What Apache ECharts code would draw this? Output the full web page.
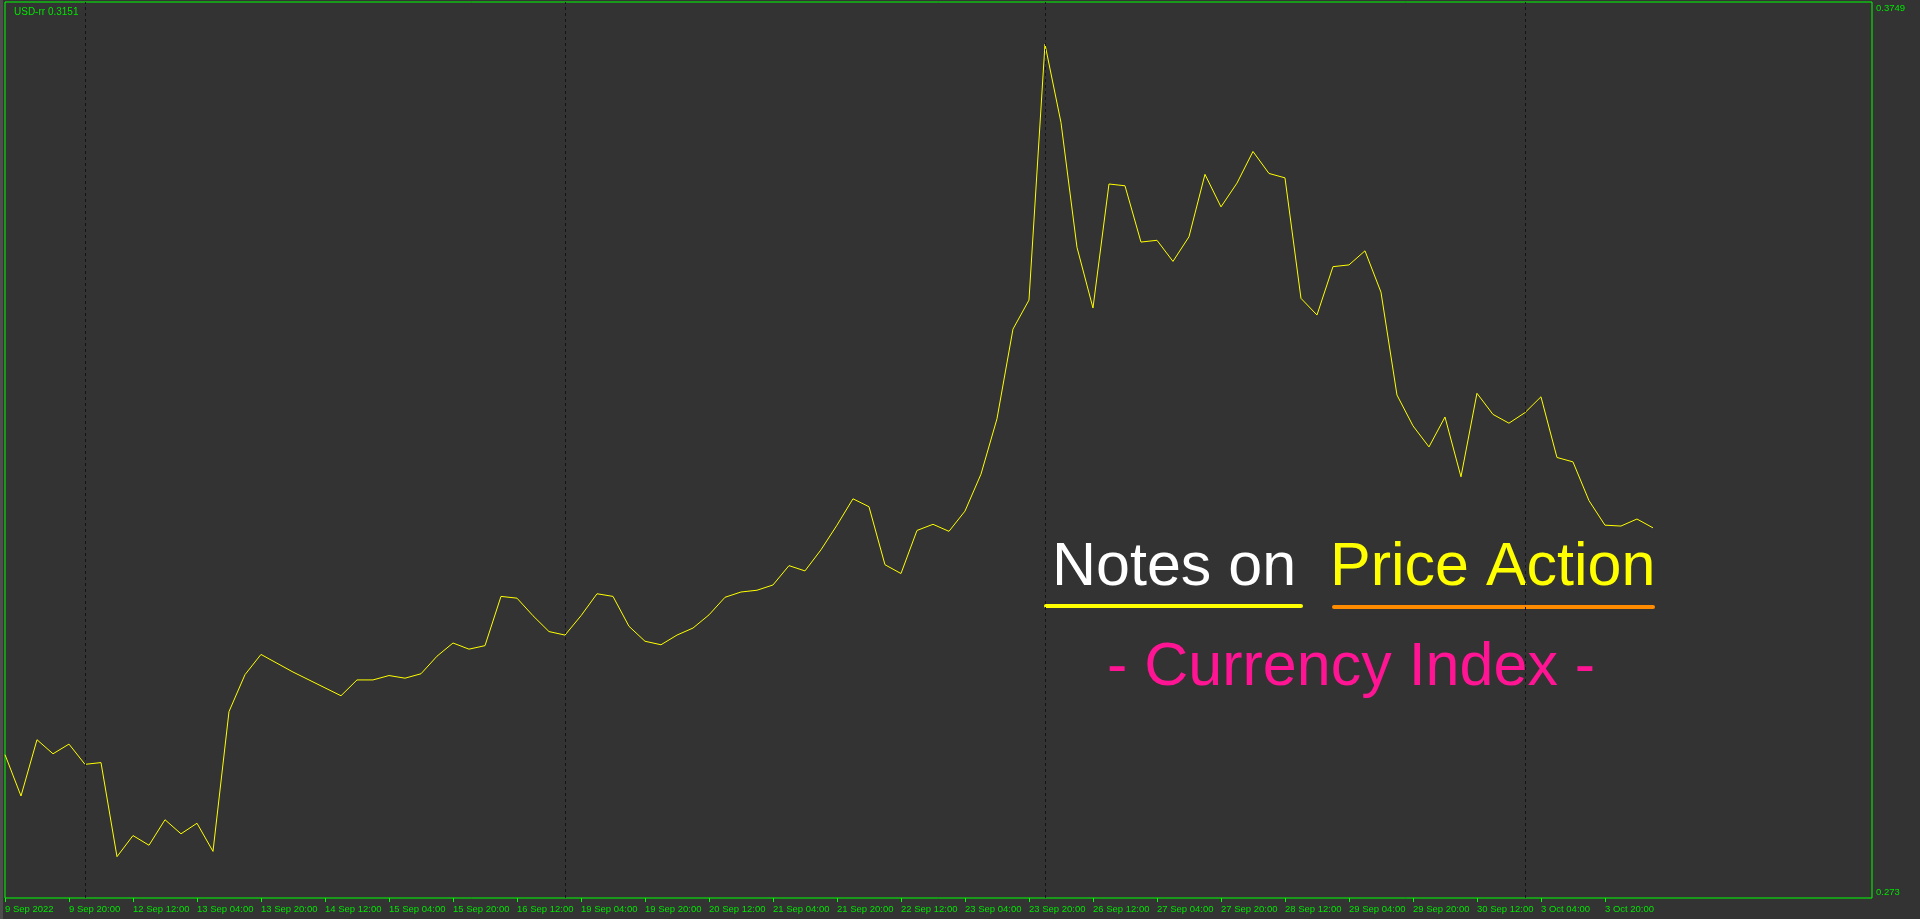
<!DOCTYPE html>
<html>
<head>
<meta charset="utf-8">
<title>USD-rr</title>
<script src="https://cdn.jsdelivr.net/npm/echarts@6/dist/echarts.min.js"></script>
<style>
	html, body {
		margin: 0;
		padding: 0;
		background: #333333;
	}
	#chart {
		width: 1920px;
		height: 919px;
	}
</style>
</head>
<body>
<div id="chart"></div>
<script>
	// H4 bars, one value per bar (bar 0 = 9 Sep 2022)
	const usdValues = [
		0.2893, 0.2846, 0.2910, 0.2894, 0.2905, 0.2882, 0.2884, 0.2777, 0.2801, 0.2790,
		0.2819, 0.2803, 0.2815, 0.2783, 0.2942, 0.2984, 0.3007, 0.2997, 0.2987, 0.2978,
		0.2969, 0.2960, 0.2978, 0.2978, 0.2983, 0.2980, 0.2985, 0.3005, 0.3020, 0.3013,
		0.3017, 0.3073, 0.3071, 0.3051, 0.3033, 0.3029, 0.3051, 0.3076, 0.3073, 0.3039,
		0.3022, 0.3018, 0.3029, 0.3037, 0.3052, 0.3072, 0.3078, 0.3080, 0.3086, 0.3108,
		0.3102, 0.3126, 0.3154, 0.3184, 0.3175, 0.3109, 0.3099, 0.3148, 0.3155, 0.3147,
		0.3170, 0.3212, 0.3275, 0.3377, 0.3410, 0.3701, 0.3612, 0.3470, 0.3401, 0.3542,
		0.3540, 0.3476, 0.3478, 0.3454, 0.3482, 0.3553, 0.3516, 0.3543, 0.3579, 0.3554,
		0.3549, 0.3412, 0.3393, 0.3448, 0.3450, 0.3466, 0.3419, 0.3302, 0.3267, 0.3243,
		0.3277, 0.3209, 0.3304, 0.3280, 0.3270, 0.3282, 0.3300, 0.3231, 0.3226, 0.3182,
		0.3154, 0.3153, 0.3161, 0.3151
	]

	// time labels, one every 4 bars
	const timeLabels = [
		"9 Sep 2022", "9 Sep 20:00", "12 Sep 12:00", "13 Sep 04:00", "13 Sep 20:00",
		"14 Sep 12:00", "15 Sep 04:00", "15 Sep 20:00", "16 Sep 12:00", "19 Sep 04:00",
		"19 Sep 20:00", "20 Sep 12:00", "21 Sep 04:00", "21 Sep 20:00", "22 Sep 12:00",
		"23 Sep 04:00", "23 Sep 20:00", "26 Sep 12:00", "27 Sep 04:00", "27 Sep 20:00",
		"28 Sep 12:00", "29 Sep 04:00", "29 Sep 20:00", "30 Sep 12:00", "3 Oct 04:00",
		"3 Oct 20:00"
	]
	const barsPerLabel = 4

	// monday 00:00 bars (weekly separators)
	const weekStartBars = [5, 35, 65, 95]

	// price scale
	const priceMin = 0.273
	const priceMax = 0.3749
	const priceLabels = ["0.273", "0.3749"]

	const lastBar = 116.69 // chart shift: empty space right of last bar

	const green = "#00ff00"
	const greenText = "#00e600"
	const labelFont = "Liberation Sans"
	const bigFont = '61px "Liberation Sans"'

	const chart = echarts.init(document.getElementById("chart"))

	const tickBars = timeLabels.map((t, i) => i * barsPerLabel)

	chart.setOption({
		backgroundColor: "#333333",
		animation: false,
		title: {
			text: "USD-rr " + usdValues[usdValues.length - 1].toFixed(4),
			left: 9,
			top: 2,
			textStyle: {
				color: greenText,
				fontSize: 10,
				fontWeight: "normal",
				fontFamily: labelFont
			}
		},
		grid: {
			show: true,
			left: 5,
			right: 48,
			top: 2,
			bottom: 21,
			borderColor: green,
			borderWidth: 1,
			backgroundColor: "transparent"
		},
		xAxis: {
			type: "value",
			min: 0,
			max: lastBar,
			axisLine: { show: false },
			splitLine: { show: false },
			axisTick: {
				show: true,
				length: 4,
				customValues: tickBars,
				lineStyle: { color: green, width: 1 }
			},
			axisLabel: {
				customValues: tickBars,
				margin: 6,
				align: "left",
				color: greenText,
				fontSize: 9.5,
				fontFamily: labelFont,
				formatter: function (v) {
					return timeLabels[Math.round(v / barsPerLabel)] || ""
				}
			}
		},
		yAxis: {
			type: "value",
			position: "right",
			min: priceMin,
			max: priceMax,
			axisLine: { show: false },
			axisTick: { show: false },
			splitLine: { show: false },
			axisLabel: {
				customValues: [priceMin, priceMax],
				margin: 4,
				color: greenText,
				fontSize: 9.5,
				fontFamily: labelFont,
				formatter: function (v) {
					// top label hangs below the top edge, bottom label sits above the bottom edge
					if (v === priceMax) return "{top|" + priceLabels[1] + "}"
					return "{bot|" + priceLabels[0] + "}"
				},
				rich: {
					top: { padding: [12, 0, 0, 0], color: greenText, fontSize: 9.5, fontFamily: labelFont },
					bot: { padding: [0, 0, 12, 0], color: greenText, fontSize: 9.5, fontFamily: labelFont }
				}
			}
		},
		series: [
			{
				type: "line",
				data: usdValues.map((v, i) => [i, v]),
				symbol: "none",
				lineStyle: {
					color: "#ffff00",
					width: 1
				},
				markLine: {
					silent: true,
					symbol: "none",
					label: { show: false },
					lineStyle: {
						color: "#141414",
						type: [3, 3],
						width: 1
					},
					data: weekStartBars.map(b => ({ xAxis: b }))
				}
			}
		],
		graphic: [
			// window frame strip on the far left
			{
				type: "rect",
				shape: { x: 0, y: 0, width: 3, height: 919 },
				style: { fill: "#4d4d4d" }
			},
			{
				type: "text",
				x: 1052,
				y: 568,
				style: {
					text: "Notes on",
					fill: "#ffffff",
					font: bigFont,
					verticalAlign: "middle"
				}
			},
			{
				type: "text",
				x: 1330,
				y: 568,
				style: {
					text: "Price Action",
					fill: "#ffff00",
					font: bigFont,
					verticalAlign: "middle"
				}
			},
			{
				type: "text",
				x: 1107,
				y: 668,
				style: {
					text: "- Currency Index -",
					fill: "#ff1493",
					font: bigFont,
					verticalAlign: "middle"
				}
			},
			{
				type: "line",
				shape: { x1: 1046, y1: 606, x2: 1301, y2: 606 },
				style: { stroke: "#ffff00", lineWidth: 4, lineCap: "round" }
			},
			{
				type: "line",
				shape: { x1: 1334, y1: 607, x2: 1653, y2: 607 },
				style: { stroke: "#ff8c00", lineWidth: 4, lineCap: "round" }
			}
		]
	})
</script>
</body>
</html>
